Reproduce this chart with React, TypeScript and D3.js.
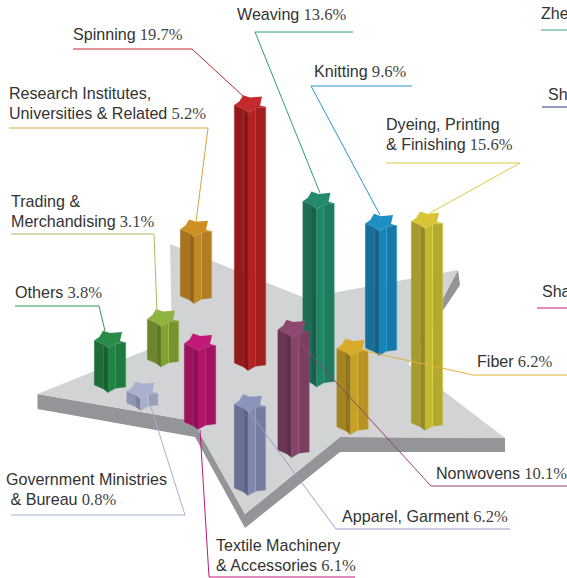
import React from "react";
import * as d3 from "d3";

// ---- data ----
const categories = ["Spinning","Weaving","Knitting","Dyeing","Fiber","Nonwovens","Apparel","Textile","Government","Others","Trading","Research"];
const shareLabels = ["19.7%","13.6%","9.6%","15.6%","6.2%","10.1%","6.2%","6.1%","0.8%","3.8%","3.1%","5.2%"];
// pillar heights, on the same % axis, as drawn
const pillarValues = [19.7,13.6,9.5,15.4,6.0,9.2,6.4,6.0,0.9,3.4,3.1,5.1];
const labelLines = [
  ["Spinning"],["Weaving"],["Knitting"],["Dyeing, Printing","& Finishing"],["Fiber"],["Nonwovens"],
  ["Apparel, Garment"],["Textile Machinery","& Accessories"],["Government Ministries"," & Bureau"],
  ["Others"],["Trading &","Merchandising"],["Research Institutes,","Universities & Related"],
];

// ---- layout ----
const W = 567, H = 578;
const xAnchors = [250,318.5,381,427,352.5,293.5,250,200,142.5,110,163,196];
const baseAnchors = [363,379.5,348,423,427,450,488,422,403,385,359.5,296];
const labelX = [73,237,314,386,477,436,342,216,6,15,11,9];
const labelY = [40,20,77,130,367,479,522,551,485,298,207,99];
const leaders: [number,number][][] = [
  [[73,49],[192,49],[243,96]],
  [[353,32],[255,32],[320,193]],
  [[412,86],[311,86],[380,215]],
  [[386,163],[520,163],[430,213]],
  [[567,375],[473,375],[365,351]],
  [[567,486],[431,486],[293,335]],
  [[510,529],[336,529],[248,410]],
  [[355,577],[209,577],[200,430]],
  [[11,515],[185,515],[148,398]],
  [[15,306],[99,306],[105,331]],
  [[11,234],[154,234],[157,313]],
  [[9,128],[208,128],[196,222]],
];
const topColors = ["#c42a2b","#258a6c","#1e90c6","#d7c437","#d9ab2a","#8e476f","#8a95bd","#c2187a","#aab1cc","#288c48","#8fb33f","#d08f22"];
const bodyColors = ["#a1201f","#1f7a5e","#1879a8","#b4a92f","#b69324","#7a3e60","#757c9f","#a1145f","#9aa0ba","#1e7a3e","#77932f","#b07d25"];
const leftColors = ["#931a18","#1c6e55","#156f9b","#a69b2c","#a4851f","#6b3655","#6a7094","#9c135c","#8f95b0","#1c6d38","#6c862c","#a6741f"];
const leaderColors = ["#c1272d","#2f9c78","#2b94cf","#dcc93f","#dfb23a","#93416f","#96a0c8","#c2187a","#a9afcf","#2f9a50","#a3bf5c","#d9a240"];

const platformTop: [number,number][] = [[170,244],[305,298],[458,270],[408,364],[505,438],[340,437],[245,514],[193,421],[37.5,394],[172,340]];
const platformLeftRim: [number,number][] = [[37.5,394],[37.5,409],[195,437],[245,528],[340,452],[505,452],[505,438],[340,437],[245,514],[193,421]];
const platformRightRim: [number,number][] = [[458,270],[460,285],[407,364],[408,364]];
const clippedLabels = [
  { text: "Zhe", x: 541, y: 19, lx: 541, ly: 30, color: "#3aa583" },
  { text: "Sh", x: 548, y: 100, lx: 542, ly: 107, color: "#2b3580" },
  { text: "Sha", x: 542, y: 297, lx: 537, ly: 308, color: "#c2187a" },
];

// star section, relative to the left shoulder
const starOutline: [number,number][] = [[-15.7,0],[-10.5,-3.8],[-7,-9.8],[0,-7.4],[12,-8.5],[10,0.5],[15.7,2],[5.4,3.3],[-2,7.6],[-6.5,4]];
const faceEdges: { from: number; to: number; shade: "left" | "dark" | "light" | "body" }[] = [
  { from: 0, to: 9, shade: "left" },
  { from: 9, to: 8, shade: "dark" },
  { from: 8, to: 7, shade: "light" },
  { from: 7, to: 6, shade: "body" },
];

const lineGen = d3.line<[number,number]>().x(d => d[0]).y(d => d[1]);
const closedGen = d3.line<[number,number]>().x(d => d[0]).y(d => d[1]).curve(d3.curveLinearClosed);
const heightScale = d3.scaleLinear().domain([0, 20]).range([0, 262]);

const order = d3.range(categories.length).sort((a, b) => d3.ascending(baseAnchors[a], baseAnchors[b]));

function Pillar({ i }: { i: number }) {
  const cx = xAnchors[i], base = baseAnchors[i];
  const h = heightScale(pillarValues[i]);
  const topY = base - h;
  const body = bodyColors[i], left = leftColors[i];
  const shades = {
    left,
    body,
    dark: d3.color(left)!.darker(0.35).formatHex(),
    light: d3.color(body)!.brighter(0.25).formatHex(),
  };
  const edge = d3.color(body)!.brighter(1.3).formatHex();
  const pt = (k: number, y: number): [number,number] => [cx + starOutline[k][0], y + starOutline[k][1]];
  return (
    <g>
      {faceEdges.map((f, j) => (
        <path key={j} fill={shades[f.shade]} stroke={shades[f.shade]} strokeWidth={0.3}
          d={closedGen([pt(f.from, topY), pt(f.to, topY), pt(f.to, base), pt(f.from, base)])!} />
      ))}
      <path stroke={edge} strokeOpacity={0.55} strokeWidth={0.8} fill="none" d={lineGen([pt(7, topY), pt(7, base)])!} />
      <path stroke={edge} strokeOpacity={0.4} strokeWidth={0.7} fill="none" d={lineGen([pt(6, topY), pt(6, base)])!} />
      <path fill={topColors[i]} d={closedGen(starOutline.map((_, k) => pt(k, topY)))!} />
    </g>
  );
}

export default function App() {
  return (
    <svg width={W} height={H} viewBox={`0 0 ${W} ${H}`}
      style={{ position: "absolute", left: 0, top: 0, background: "#fff" }}>
      <path d={closedGen(platformRightRim)!} fill="#939598" />
      <path d={closedGen(platformLeftRim)!} fill="#939598" />
      <path d={closedGen(platformTop)!} fill="#d1d3d4" />
      {order.map(i => <Pillar key={categories[i]} i={i} />)}
      {leaders.map((l, i) => (
        <path key={i} d={lineGen(l)!} fill="none" stroke={leaderColors[i]} strokeWidth={1} />
      ))}
      {clippedLabels.map(c => (
        <g key={c.text}>
          <text x={c.x} y={c.y} fontFamily="'Liberation Sans', Arial, sans-serif" fontSize={16} fill="#333">{c.text}</text>
          <line x1={c.lx} x2={W} y1={c.ly} y2={c.ly} stroke={c.color} strokeWidth={1} />
        </g>
      ))}
      {labelLines.map((lines, i) => (
        <text key={i} fontFamily="'Liberation Sans', Arial, sans-serif" fontSize={16.1} fill="#333">
          {lines.map((t, j) => (
            <tspan key={j} x={labelX[i]} y={labelY[i] + j * 19.5} xmlSpace="preserve" style={{ whiteSpace: "pre" }}>
              {t}
              {j === lines.length - 1 && (
                <tspan fontFamily="'Liberation Serif', 'Times New Roman', serif" fontSize={16.6} fill="#444">{" " + shareLabels[i]}</tspan>
              )}
            </tspan>
          ))}
        </text>
      ))}
    </svg>
  );
}
